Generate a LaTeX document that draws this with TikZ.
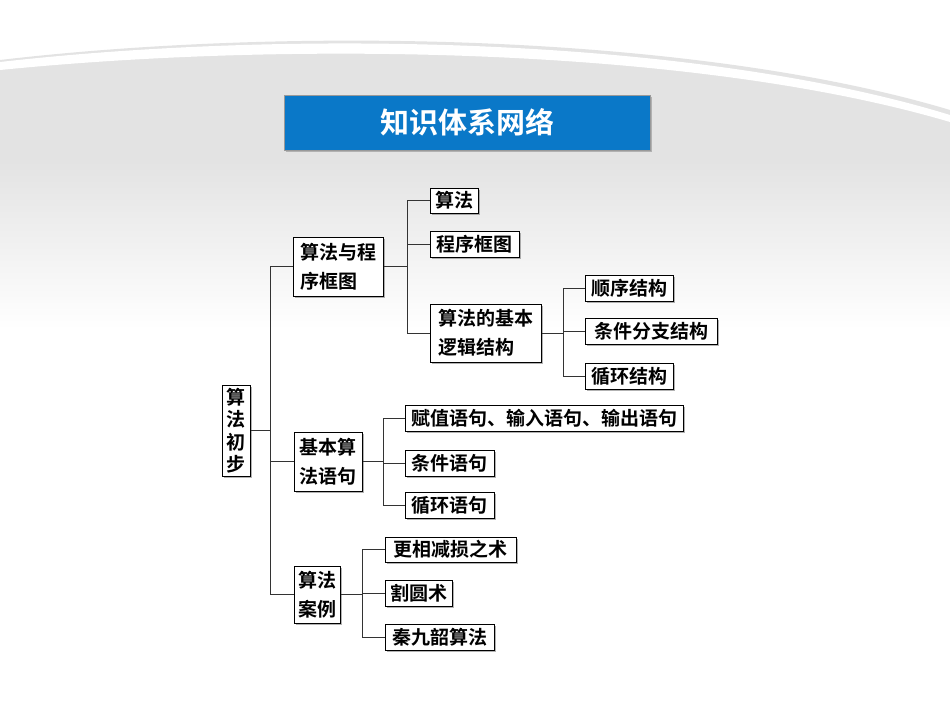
\documentclass[tikz,border=0pt]{standalone}
\usepackage{fontspec}
\newfontfamily\cjk{Noto Sans CJK SC}[BoldFont={* Bold}]
\usetikzlibrary{shadows}
\begin{document}
\begin{tikzpicture}[x=1pt,y=-1pt,
  bx/.style={draw=black,line width=1pt,fill=white,inner sep=0pt,font=\cjk\bfseries\fontsize{19}{29}\selectfont,align=left,drop shadow={shadow xshift=1.5pt,shadow yshift=-1.5pt,opacity=0.5,fill=black!60}},
  vbx/.style={bx,font=\cjk\bfseries\fontsize{19}{22.5}\selectfont,align=center},
  ln/.style={line width=0.8pt,black!80}]
\useasboundingbox (0,0) rectangle (950,713);
\fill[white] (0,0) rectangle (950,713);
\shade[top color=black!11,bottom color=white] (0,160) rectangle (950,330);
\fill[black!11] (0,60) .. controls (300,25) and (700,35) .. (950,110) -- (950,160) -- (0,160) -- cycle;
\fill[white] (0,62) .. controls (300,28) and (700,38) .. (950,115) -- (950,122) .. controls (700,48) and (300,40) .. (0,70) -- cycle;
\draw[white,line width=3pt] (780,0) .. controls (880,20) and (930,50) .. (950,70);
\draw[white,line width=2pt] (840,0) .. controls (900,15) and (935,35) .. (950,45);
% title
\node[draw=black!40,fill={rgb,255:red,10;green,120;blue,200},minimum width=366pt,minimum height=55pt,inner sep=0pt,text=white,font=\cjk\bfseries\fontsize{29}{30}\selectfont,drop shadow={shadow xshift=1.5pt,shadow yshift=-2pt,opacity=0.5}] (t) at (467,122.5) {知识体系网络};
\newcommand{\bb}[7][bx]{\node[#1,minimum width={#5-#3},minimum height={#6-#4}] (#2) at ({(#3+#5)/2},{(#4+#6)/2}) {#7};}
\bb[vbx]{r}{222}{385}{250}{476}{算\\法\\初\\步}
\bb{a}{293}{237}{383}{296}{算法与程\\序框图}
\bb{a1}{430}{188}{478}{213}{算法}
\bb{a2}{430}{231}{519}{257}{程序框图}
\bb{a3}{430}{304}{541}{362}{算法的基本\\逻辑结构}
\bb{s1}{585}{275}{673}{301}{顺序结构}
\bb{s2}{585}{318}{717}{344}{条件分支结构}
\bb{s3}{585}{363}{673}{389}{循环结构}
\bb{b}{294}{432}{362}{491}{基本算\\法语句}
\bb{b1}{405}{405}{683}{431}{赋值语句、输入语句、输出语句}
\bb{b2}{405}{450}{494}{476}{条件语句}
\bb{b3}{405}{492}{494}{518}{循环语句}
\bb{c}{294}{566}{340}{623}{算法\\案例}
\bb{c1}{385}{537}{516}{562}{更相减损之术}
\bb{c2}{385}{580}{452}{606}{割圆术}
\bb{c3}{385}{624}{494}{650}{秦九韶算法}
% connectors
\draw[ln] (r.east) -- (270,0|-r.east);
\draw[ln] (a.west) -| (270,0|-c.west) -- (c.west);
\draw[ln] (270,0|-b.west) -- (b.west);
\draw[ln] (a.east) -- (407,0|-a.east);
\draw[ln] (a1.west) -| (407,0|-a3.west) -- (a3.west);
\draw[ln] (407,0|-a2.west) -- (a2.west);
\draw[ln] (a3.east) -- (563,0|-a3.east);
\draw[ln] (s1.west) -| (563,0|-s3.west) -- (s3.west);
\draw[ln] (563,0|-s2.west) -- (s2.west);
\draw[ln] (b.east) -- (383,0|-b.east);
\draw[ln] (b1.west) -| (383,0|-b3.west) -- (b3.west);
\draw[ln] (383,0|-b2.west) -- (b2.west);
\draw[ln] (c.east) -- (362,0|-c.east);
\draw[ln] (c1.west) -| (362,0|-c3.west) -- (c3.west);
\draw[ln] (362,0|-c2.west) -- (c2.west);
\end{tikzpicture}
\end{document}
